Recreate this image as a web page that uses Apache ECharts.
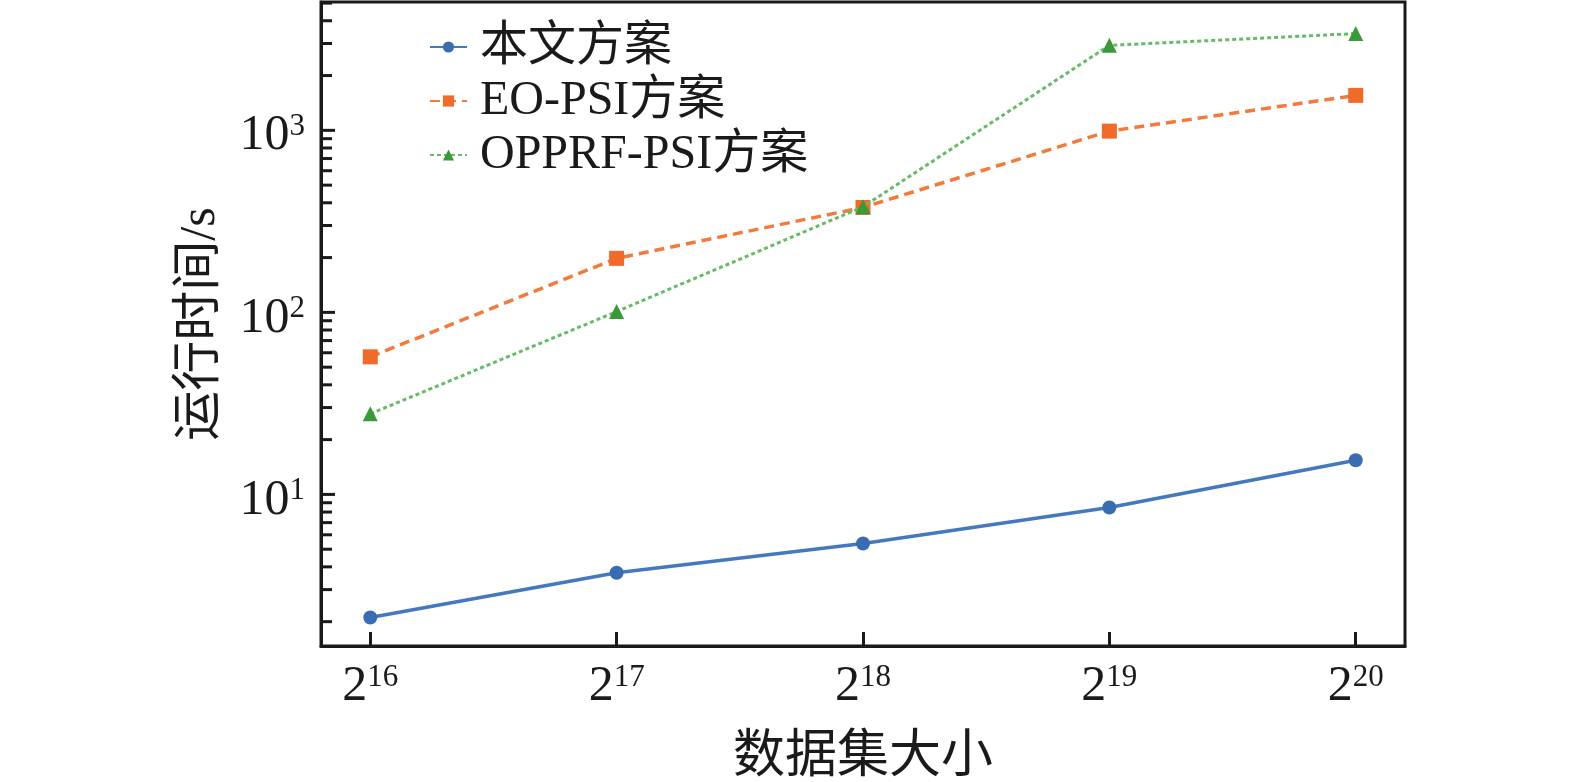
<!DOCTYPE html>
<html>
<head>
<meta charset="utf-8">
<title>运行时间对比</title>
<script src="https://cdn.jsdelivr.net/npm/echarts@6/dist/echarts.min.js"></script>
<style>
  html, body { margin: 0; padding: 0; background: #fff; }
  #chart { width: 1575px; height: 782px; }
</style>
</head>
<body>
<div id="chart"></div>
<script>
  // x positions are the exponents n of 2^n
  const exponents = [16, 17, 18, 19, 20];
  const oursTimes = [2.11, 3.71, 5.38, 8.47, 15.4];
  const eoPsiTimes = [57, 198, 377, 990, 1556];
  const opprfPsiTimes = [27.7, 101, 380, 2930, 3400];
  const seriesNames = ['本文方案', 'EO-PSI方案', 'OPPRF-PSI方案'];
  const yMajorTicks = [10, 100, 1000];
  const yMinorTicks = [2, 3, 4, 5, 6, 7, 8, 9, 20, 30, 40, 50, 60, 70, 80, 90,
    200, 300, 400, 500, 600, 700, 800, 900, 2000, 3000, 4000, 5000];

  const FONT = '"Liberation Serif", "Times New Roman", "Noto Sans CJK SC", serif';
  const INK = '#1a1a1a';

  function pairs(values) {
    return exponents.map((e, i) => [e, values[i]]);
  }

  const supRich = {
    b: { fontFamily: FONT, fontSize: 50, lineHeight: 50, color: INK },
    s: { fontFamily: FONT, fontSize: 31, lineHeight: 27, color: INK, verticalAlign: 'top' },
  };

  const chart = echarts.init(document.getElementById('chart'));

  const xMin = 15.8;
  const xMax = 20.2;
  const yMin = 1.47;
  const yMax = 5070;

  const option = {
    backgroundColor: '#fff',
    animation: false,
    grid: {
      left: 321,
      right: 170,
      top: 2,
      bottom: 136,
      outerBoundsMode: 'none',
      show: true,
      borderColor: INK,
      borderWidth: 3,
    },
    legend: {
      orient: 'vertical',
      left: 424,
      top: 18,
      itemWidth: 37,
      itemHeight: 14,
      itemGap: 6,
      data: seriesNames,
      textStyle: {
        fontFamily: FONT,
        fontSize: 48,
        color: INK,
        padding: [0, 0, 0, 8],
      },
    },
    xAxis: {
      type: 'value',
      min: xMin,
      max: xMax,
      name: '数据集大小',
      nameLocation: 'middle',
      nameGap: 86,
      nameTextStyle: { fontFamily: FONT, fontSize: 52, color: INK },
      axisLine: { show: true, lineStyle: { color: INK, width: 3 } },
      axisTick: {
        show: true,
        inside: true,
        length: 14,
        lineStyle: { color: INK, width: 3 },
        customValues: exponents,
      },
      axisLabel: {
        margin: 16,
        customValues: exponents,
        formatter: (v) => '{b|2}{s|' + v + '}',
        rich: supRich,
      },
      splitLine: { show: false },
    },
    yAxis: {
      type: 'log',
      logBase: 10,
      min: yMin,
      max: yMax,
      name: '运行时间/s',
      nameLocation: 'middle',
      nameGap: 95,
      nameTextStyle: { fontFamily: FONT, fontSize: 50, color: INK },
      axisLine: { show: true, lineStyle: { color: INK, width: 3 } },
      axisTick: { show: false },
      axisLabel: {
        margin: 16,
        padding: [12, 0, 0, 0],
        customValues: yMajorTicks,
        formatter: (v) => '{b|10}{s|' + Math.round(Math.log10(v)) + '}',
        rich: supRich,
      },
      splitLine: { show: false },
      minorTick: { show: false },
    },
    series: [
      {
        name: seriesNames[0],
        type: 'line',
        data: pairs(oursTimes),
        symbol: 'circle',
        symbolSize: 14,
        itemStyle: { color: '#3a6cb2' },
        lineStyle: { color: '#4479bf', width: 3.5, type: 'solid' },
        z: 2,
      },
      {
        name: seriesNames[1],
        type: 'line',
        data: pairs(eoPsiTimes),
        symbol: 'rect',
        symbolSize: 15,
        itemStyle: { color: '#f06a2a' },
        lineStyle: { color: '#f27a3c', width: 3.5, type: [10, 6] },
        z: 3,
      },
      {
        name: seriesNames[2],
        type: 'line',
        data: pairs(opprfPsiTimes),
        symbol: 'triangle',
        symbolSize: 15,
        itemStyle: { color: '#3a9a3a' },
        lineStyle: { color: '#66bb66', width: 3, type: [4, 3] },
        z: 4,
      },
    ],
  };

  chart.setOption(option);

  // log-axis ticks (long at decades, short in between), placed through the grid's own scales
  function tickLine(value, length) {
    const p = chart.convertToPixel({ gridIndex: 0 }, [xMin, value]);
    return {
      type: 'line',
      silent: true,
      z: 10,
      shape: { x1: p[0], y1: p[1], x2: p[0] + length, y2: p[1] },
      style: { stroke: INK, lineWidth: 3 },
    };
  }
  chart.setOption({
    graphic: {
      elements: yMajorTicks.map((v) => tickLine(v, 14))
        .concat(yMinorTicks.map((v) => tickLine(v, 11))),
    },
  });
</script>
</body>
</html>
